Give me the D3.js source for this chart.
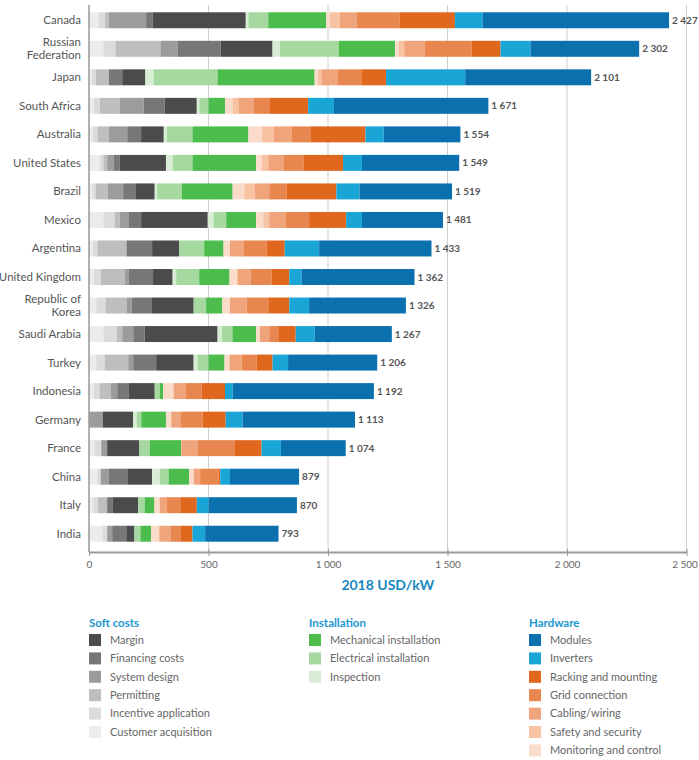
<!DOCTYPE html>
<html>
<head>
<meta charset="utf-8">
<script src="https://cdn.jsdelivr.net/npm/d3@7"></script>
<style>
  body { margin: 0; background: #fff; }
  svg text { font-family: Lato, "Noto Sans", sans-serif; }
</style>
</head>
<body>
<div id="chart"></div>
<script>
// countries, top to bottom
var countries = ["Canada", "Russian Federation", "Japan", "South Africa", "Australia",
  "United States", "Brazil", "Mexico", "Argentina", "United Kingdom", "Republic of Korea",
  "Saudi Arabia", "Turkey", "Indonesia", "Germany", "France", "China", "Italy", "India"];

// cost components, USD/kW (same order as countries)
var customerAcquisition = [40, 60, 12, 20, 15, 45, 14, 60, 15, 20, 30, 60, 30, 20, 0, 24, 35, 18, 56];
var incentiveApplication = [27, 51, 16, 26, 20, 15, 14, 47, 20, 29, 39, 55, 35, 24, 0, 27, 14, 20, 20];
var permitting = [16, 188, 55, 83, 48, 16, 51, 22, 122, 100, 88, 24, 99, 46, 0, 0, 0, 38, 0];
var systemDesign = [156, 73, 0, 100, 77, 28, 64, 38, 0, 18, 21, 46, 21, 28, 58, 25, 34, 0, 21];
var financingCosts = [28, 179, 56, 88, 58, 25, 51, 51, 107, 101, 83, 48, 96, 49, 0, 0, 80, 24, 59];
var margin = [389, 217, 97, 134, 95, 193, 81, 279, 114, 82, 177, 305, 157, 108, 127, 135, 101, 106, 34];
var inspection = [11, 31, 35, 11, 13, 29, 10, 24, 0, 15, 0, 18, 16, 0, 14, 0, 32, 0, 0];
var electricalInstallation = [83, 247, 267, 38, 107, 82, 104, 53, 104, 96, 52, 44, 46, 21, 20, 43, 37, 27, 25];
var mechanicalInstallation = [243, 235, 406, 69, 234, 266, 212, 125, 81, 127, 68, 99, 67, 14, 103, 132, 86, 41, 45];
var monitoringControl = [14, 14, 14, 31, 55, 23, 49, 30, 27, 33, 32, 16, 21, 44, 22, 0, 19, 22, 34];
var safetySecurity = [42, 24, 14, 25, 52, 28, 44, 25, 0, 0, 0, 0, 0, 0, 0, 0, 0, 0, 0];
var cablingWiring = [72, 87, 70, 63, 73, 63, 60, 70, 56, 55, 70, 39, 51, 52, 38, 70, 27, 30, 49];
var gridConnection = [178, 194, 97, 66, 79, 86, 72, 97, 97, 88, 90, 38, 62, 66, 93, 152, 77, 59, 39];
var rackingMounting = [232, 122, 104, 163, 231, 164, 209, 155, 76, 74, 88, 73, 67, 97, 97, 114, 7, 66, 51];
var inverters = [115, 125, 331, 108, 76, 79, 97, 66, 144, 51, 83, 79, 65, 32, 70, 81, 41, 49, 53];
var modules = [781, 455, 527, 646, 321, 407, 387, 339, 470, 473, 405, 323, 373, 591, 471, 271, 289, 370, 307];

var xTicks = [0, 500, 1000, 1500, 2000, 2500];

// stacking order left to right, with legend groups
var series = [
  {key: "Customer acquisition", values: customerAcquisition, color: "#ececec", group: 0, row: 5},
  {key: "Incentive application", values: incentiveApplication, color: "#dcdcdc", group: 0, row: 4},
  {key: "Permitting", values: permitting, color: "#bebebe", group: 0, row: 3},
  {key: "System design", values: systemDesign, color: "#9c9c9c", group: 0, row: 2},
  {key: "Financing costs", values: financingCosts, color: "#777777", group: 0, row: 1},
  {key: "Margin", values: margin, color: "#4b4b4b", group: 0, row: 0},
  {key: "Inspection", values: inspection, color: "#d8eed4", group: 1, row: 2},
  {key: "Electrical installation", values: electricalInstallation, color: "#a6d9a0", group: 1, row: 1},
  {key: "Mechanical installation", values: mechanicalInstallation, color: "#4cbc4c", group: 1, row: 0},
  {key: "Monitoring and control", values: monitoringControl, color: "#fbdccb", group: 2, row: 6},
  {key: "Safety and security", values: safetySecurity, color: "#f8c3a3", group: 2, row: 5},
  {key: "Cabling/wiring", values: cablingWiring, color: "#f0a47b", group: 2, row: 4},
  {key: "Grid connection", values: gridConnection, color: "#e8864f", group: 2, row: 3},
  {key: "Racking and mounting", values: rackingMounting, color: "#e0671e", group: 2, row: 2},
  {key: "Inverters", values: inverters, color: "#1aa5d7", group: 2, row: 1},
  {key: "Modules", values: modules, color: "#0b70ae", group: 2, row: 0}
];
var groups = ["Soft costs", "Installation", "Hardware"];

var width = 699, height = 760;
var svg = d3.select("#chart").append("svg")
  .attr("width", width)
  .attr("height", height);

var table = countries.map(function (c, i) {
  var row = {country: c};
  series.forEach(function (s) { row[s.key] = s.values[i]; });
  return row;
});

var x = d3.scaleLinear().domain([0, 2500]).range([89, 686.5]);
var y = d3.scaleBand().domain(countries).range([6, 548]).paddingInner(0.44).paddingOuter(0.22);

var fmt = d3.formatLocale({decimal: ".", thousands: " ", grouping: [3], currency: ["", ""]}).format(",d");

// gridlines
svg.append("g").selectAll("line")
  .data(xTicks.slice(1))
  .enter().append("line")
  .attr("x1", function (d) { return x(d); })
  .attr("x2", function (d) { return x(d); })
  .attr("y1", 5)
  .attr("y2", 552)
  .attr("stroke", "#cfcfcf")
  .attr("stroke-width", 1);

var stack = d3.stack().keys(series.map(function (s) { return s.key; }));
var stacked = stack(table);

var layers = svg.append("g").selectAll("g")
  .data(stacked)
  .enter().append("g")
  .attr("fill", function (d, i) { return series[i].color; });

layers.selectAll("rect")
  .data(function (d) { return d; })
  .enter().append("rect")
  .attr("x", function (d) { return x(d[0]); })
  .attr("y", function (d) { return y(d.data.country); })
  .attr("width", function (d) { return x(d[1]) - x(d[0]); })
  .attr("height", y.bandwidth());

// totals
svg.append("g").selectAll("text")
  .data(table)
  .enter().append("text")
  .attr("x", function (d) {
    return x(d3.sum(series, function (s) { return d[s.key]; })) + 3;
  })
  .attr("y", function (d) { return y(d.country) + y.bandwidth() / 2; })
  .attr("dy", "0.35em")
  .attr("font-size", 10)
  .attr("font-weight", "bold")
  .attr("fill", "#555")
  .text(function (d) { return fmt(d3.sum(series, function (s) { return d[s.key]; })); });

// country labels (two names wrap onto two lines)
var lines = [];
countries.forEach(function (c) {
  var words = c === "Russian Federation" ? ["Russian", "Federation"]
    : c === "Republic of Korea" ? ["Republic of", "Korea"] : [c];
  words.forEach(function (w, i) {
    var off = words.length === 1 ? 0 : (i === 0 ? -6.5 : 6.5);
    lines.push({country: c, text: w, off: off});
  });
});

svg.append("g").selectAll("text")
  .data(lines)
  .enter().append("text")
  .attr("x", 81)
  .attr("y", function (d) { return y(d.country) + y.bandwidth() / 2 + d.off; })
  .attr("dy", "0.35em")
  .attr("text-anchor", "end")
  .attr("font-size", 11.5)
  .attr("fill", "#555")
  .text(function (d) { return d.text; });

// y axis line
svg.append("line")
  .attr("x1", x(0)).attr("x2", x(0))
  .attr("y1", 5).attr("y2", 552)
  .attr("stroke", "#999")
  .attr("stroke-width", 1.5);

// x axis
var xAxis = d3.axisBottom(x).tickValues(xTicks).tickFormat(fmt).tickSizeInner(4).tickSizeOuter(0);
var gx = svg.append("g")
  .attr("transform", "translate(0, 552)")
  .call(xAxis);
gx.select(".domain").attr("stroke", "#999").attr("stroke-width", 2);
gx.selectAll(".tick line").attr("stroke", "#999").attr("y1", -3);
gx.selectAll(".tick text")
  .attr("fill", "#666")
  .attr("font-size", 10)
  .attr("dy", "0.9em")
  .attr("dx", function (d) { return d === 2500 ? -2 : 0; })
  .style("font-family", "Lato, sans-serif");

svg.append("text")
  .attr("x", x(1250))
  .attr("y", 590)
  .attr("text-anchor", "middle")
  .attr("font-size", 14)
  .attr("font-weight", "bold")
  .attr("fill", "#1688c0")
  .text("2018 USD/kW");

// legend
var colX = [89, 309, 529];
groups.forEach(function (g, gi) {
  svg.append("text")
    .attr("x", colX[gi])
    .attr("y", 627)
    .attr("font-size", 11.5)
    .attr("font-weight", "bold")
    .attr("fill", "#1a97cf")
    .text(g);
});

var items = svg.append("g").selectAll("g")
  .data(series)
  .enter().append("g")
  .attr("transform", function (d) {
    return "translate(" + colX[d.group] + "," + (634 + d.row * 18.4) + ")";
  });

items.append("rect")
  .attr("width", 12)
  .attr("height", 12)
  .attr("fill", function (d) { return d.color; });

items.append("text")
  .attr("x", 21)
  .attr("y", 6)
  .attr("dy", "0.35em")
  .attr("font-size", 11)
  .attr("fill", "#666")
  .text(function (d) { return d.key; });
</script>
</body>
</html>
